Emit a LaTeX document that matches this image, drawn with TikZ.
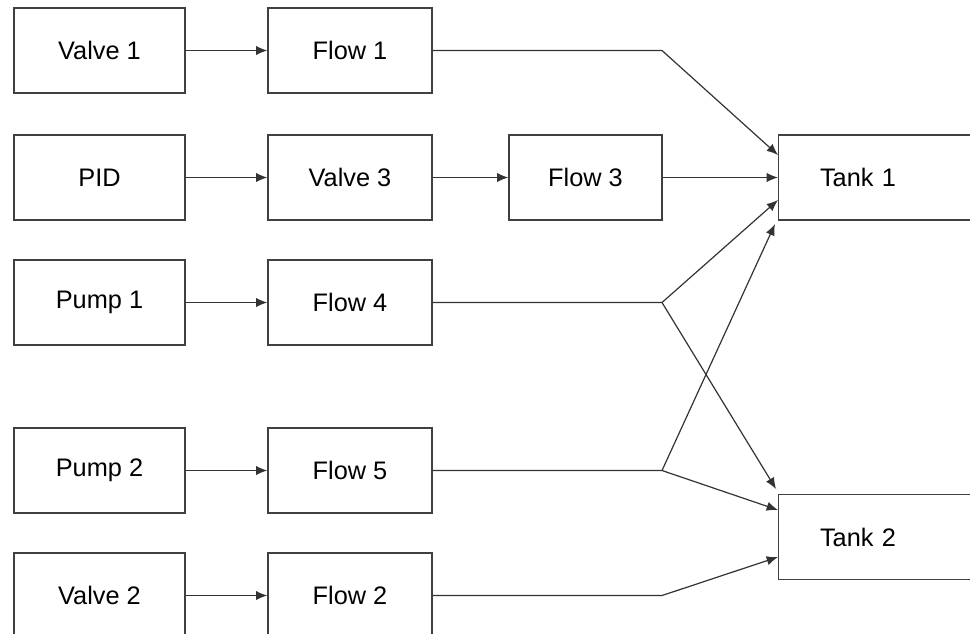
\documentclass[tikz,border=0pt]{standalone}
\usepackage{fontspec}
\setmainfont{Liberation Sans}
\usetikzlibrary{arrows.meta}
\begin{document}
\begin{tikzpicture}[x=0.75pt,y=-0.75pt,
  blk/.style={draw=black!75, line width=1pt, minimum height=63.75pt, inner sep=0pt,
    font=\fontsize{19}{21}\selectfont},
  srcbox/.style={blk, minimum width=128.25pt},
  flowbox/.style={blk, minimum width=123pt},
  tankbox/.style={blk, anchor=west, minimum width=180pt, text width=120pt,
    inner xsep=31pt, align=left},
  link/.style={draw=black!80, line width=0.9pt},
  arr/.style={link, -{Latex[length=8.5pt,width=7pt]}}]
\useasboundingbox (0,0) rectangle (970,633);

% sources
\node[srcbox] (v1)  at (99.5,50.5)  {Valve 1};
\node[srcbox] (pid) at (99.5,177.5) {PID};
\node[srcbox] (p1)  at (99.5,302.5) {Pump 1};
\node[srcbox] (p2)  at (99.5,470.5) {Pump 2};
\node[srcbox] (v2)  at (99.5,595.5) {Valve 2};

% flows
\node[flowbox] (f1) at (350,50.5)  {Flow 1};
\node[flowbox] (v3) at (350,177.5) {Valve 3};
\node[flowbox] (f4) at (350,302.5) {Flow 4};
\node[flowbox] (f5) at (350,470.5) {Flow 5};
\node[flowbox] (f2) at (350,595.5) {Flow 2};
\node[blk, minimum width=114.75pt] (f3) at (585.5,177.5) {Flow 3};

% tanks
\node[tankbox] (t1) at (778,177.5) {Tank 1};
\node[tankbox] (t2) at (778,537) {Tank 2};

% bends and inlet points
\coordinate (j1) at (662,50.5);
\coordinate (j4) at (662,302.5);
\coordinate (j5) at (662,470.5);
\coordinate (j2) at (662,595.5);
\coordinate (t1a) at (778,155);
\coordinate (t1c) at (778,200);
\coordinate (t1d) at (775,224);
\coordinate (t2a) at (776,489);
\coordinate (t2b) at (778,510);
\coordinate (t2c) at (778,557);

% first stage
\draw[arr] (v1) -- (f1);
\draw[arr] (pid) -- (v3);
\draw[arr] (v3) -- (f3);
\draw[arr] (p1) -- (f4);
\draw[arr] (p2) -- (f5);
\draw[arr] (v2) -- (f2);

% into the tanks
\draw[arr] (f1.east) -- (j1) -- (t1a);
\draw[arr] (f3) -- (t1);
\draw[arr] (f4.east) -- (j4) -- (t1c);
\draw[arr] (j4) -- (t2a);
\draw[arr] (f5.east) -- (j5) -- (t1d);
\draw[arr] (j5) -- (t2b);
\draw[arr] (f2.east) -- (j2) -- (t2c);
\end{tikzpicture}
\end{document}
